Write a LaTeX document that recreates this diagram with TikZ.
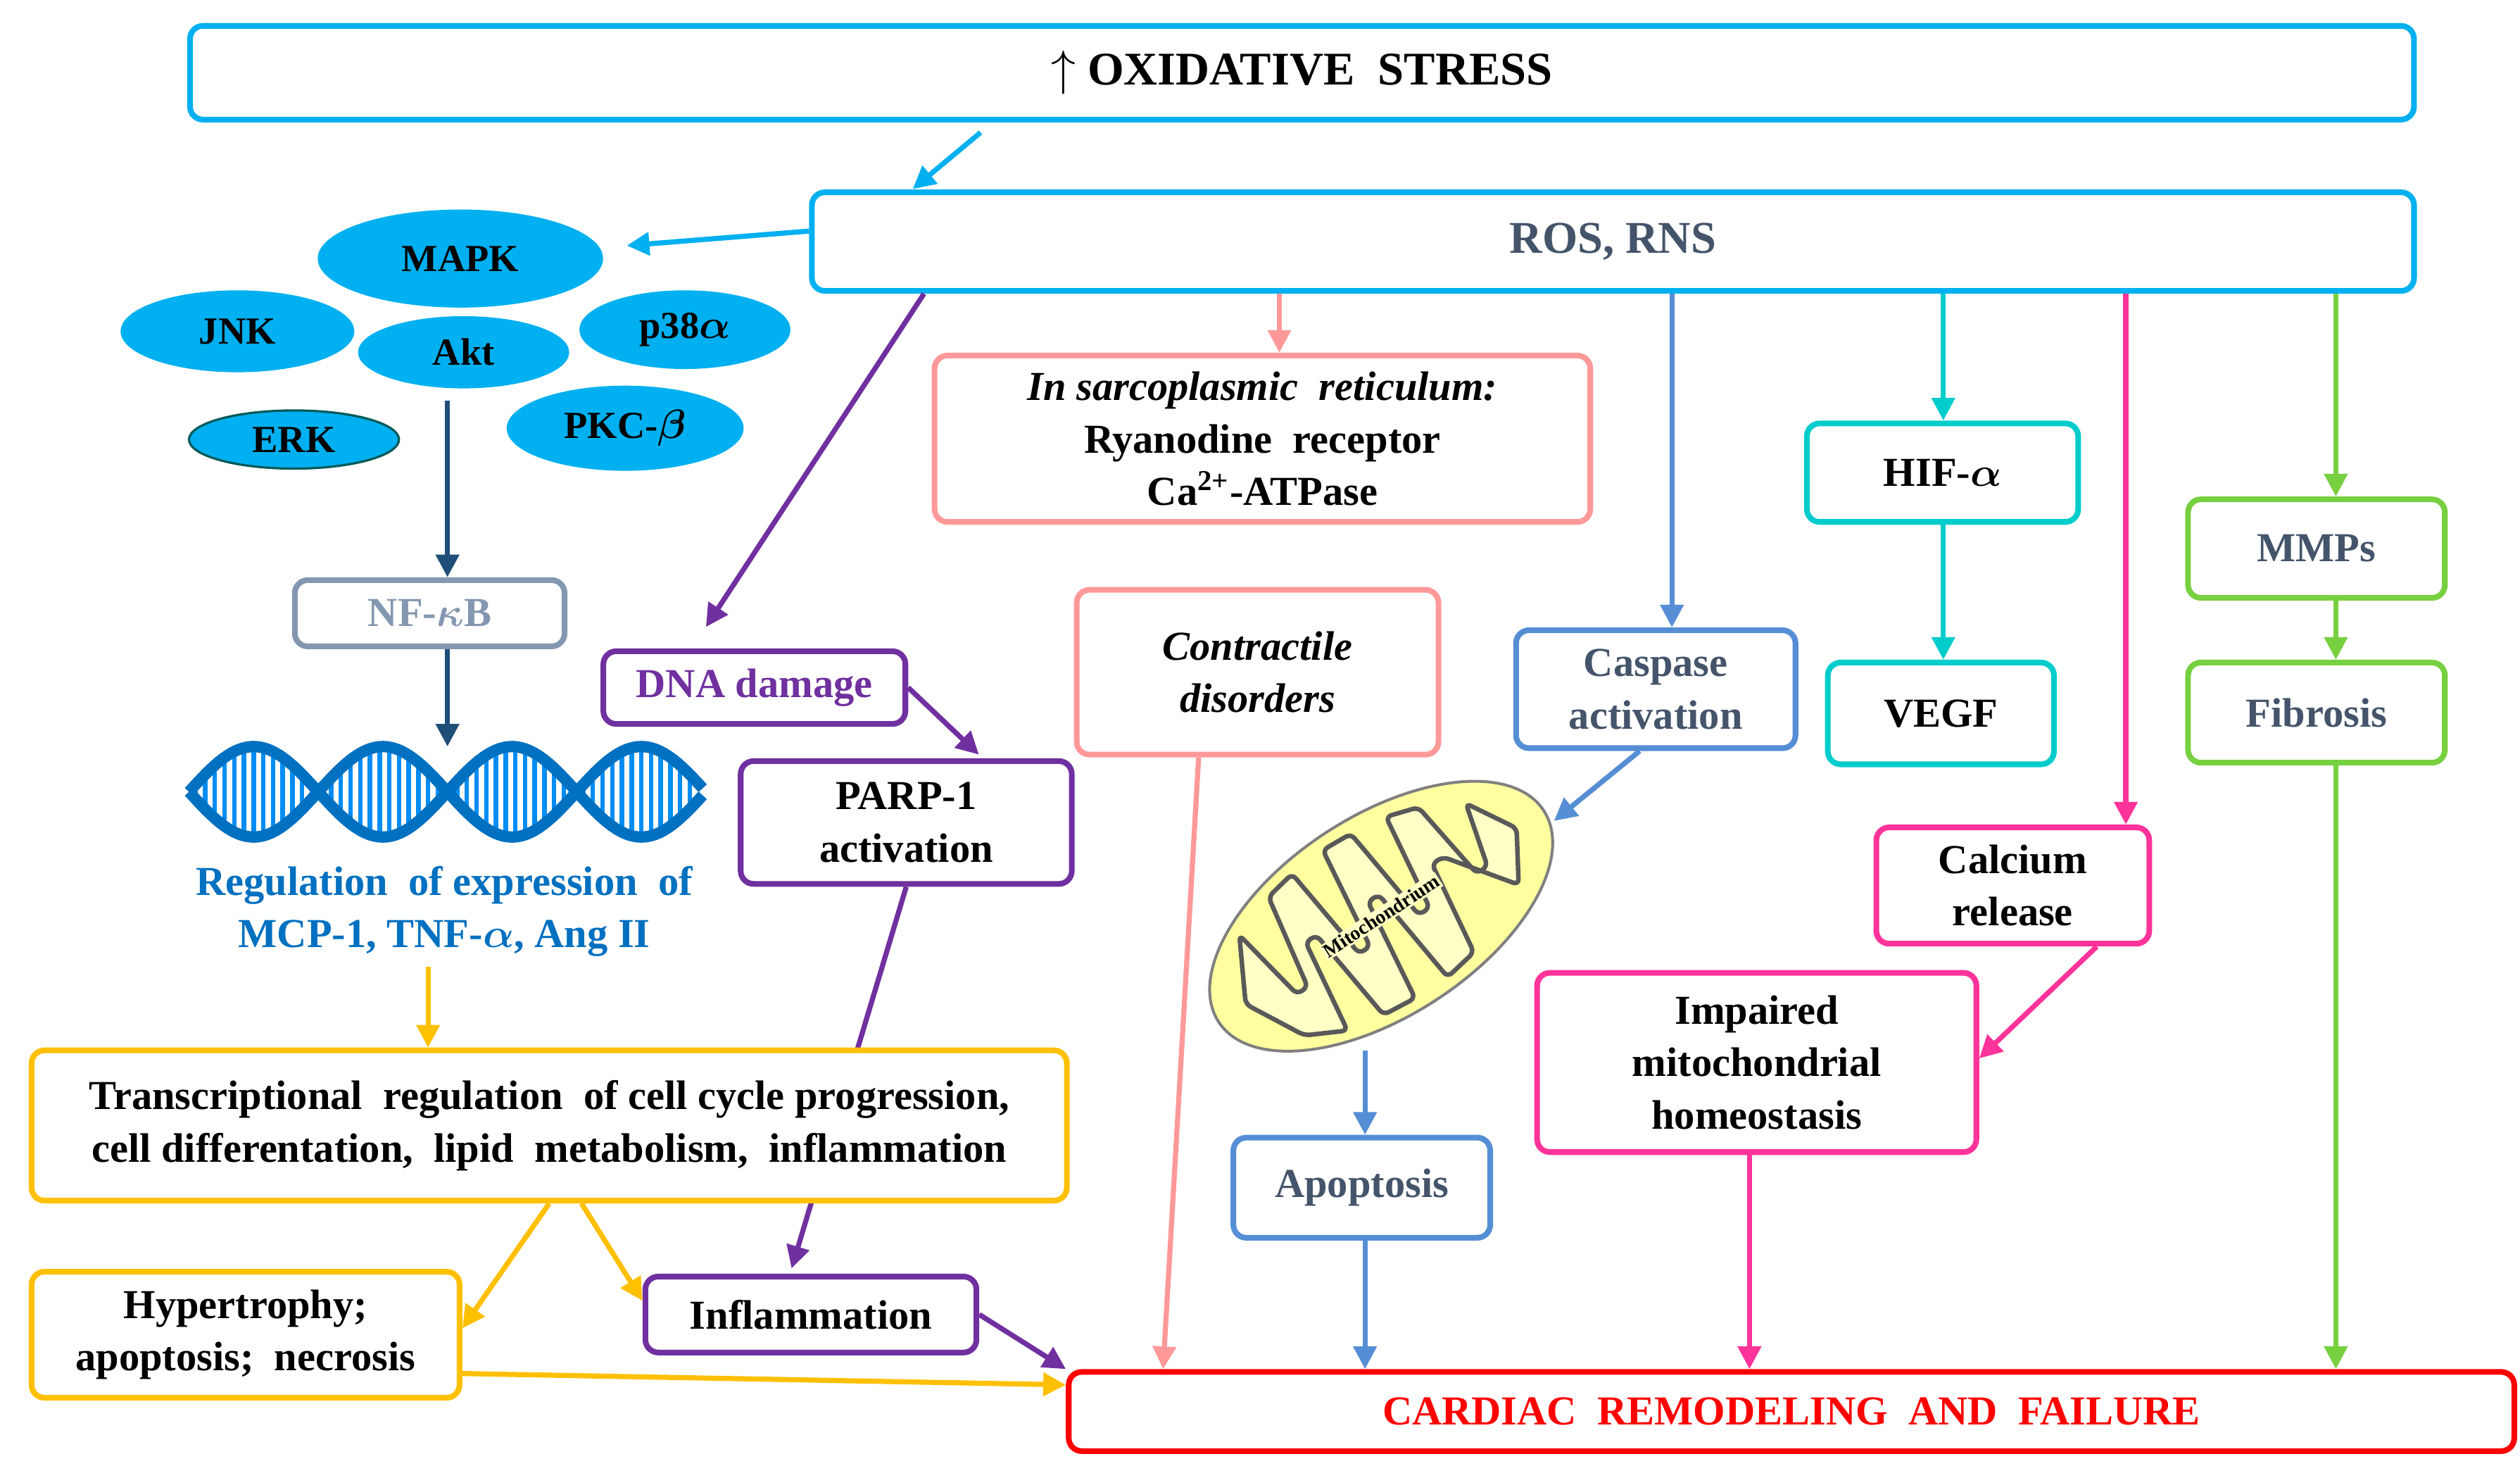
\documentclass[tikz,border=0pt]{standalone}
\usepackage{amsmath}
\usepackage{fontspec}
\setmainfont{Liberation Serif}
\usetikzlibrary{arrows.meta,shapes.geometric,calc,backgrounds}
\definecolor{sky}{RGB}{0,176,240}
\definecolor{navy}{RGB}{31,78,121}
\definecolor{slate}{RGB}{68,84,106}
\definecolor{gbl}{RGB}{132,151,176}
\definecolor{orng}{RGB}{255,192,0}
\definecolor{purp}{RGB}{112,48,160}
\definecolor{pnk}{RGB}{255,153,153}
\definecolor{cblue}{RGB}{85,142,213}
\definecolor{teal2}{RGB}{0,204,204}
\definecolor{mag}{RGB}{255,51,153}
\definecolor{grn}{RGB}{119,208,63}
\definecolor{rblue}{RGB}{0,112,192}
\definecolor{myel}{RGB}{255,255,160}
\tikzset{
 box/.style={draw=#1,line width=2pt,rounded corners=0.16cm,fill=white,align=center,inner sep=2pt,font=\fontsize{14.5}{18.5}\selectfont\bfseries},
 ell/.style={ellipse,fill=sky,draw=sky,inner sep=0pt,font=\fontsize{13.5}{15}\selectfont\bfseries},
 ar/.style={draw=#1,line width=1.8pt,-{Triangle[length=0.28cm,width=0.28cm]}},
}
\begin{document}
\begin{tikzpicture}[x=0.02cm,y=-0.02cm]
\useasboundingbox (0,0) rectangle (1560,907);
% top boxes
\node[box=sky,minimum width=27.54cm,minimum height=1.16cm,font=\fontsize{16.5}{19}\selectfont\bfseries] (ox) at (806,45) {$\uparrow$ OXIDATIVE\ \ STRESS};
\node[box=sky,minimum width=19.84cm,minimum height=1.22cm,font=\fontsize{16}{19}\selectfont\bfseries,text=slate] (ros) at (998.5,149.5) {ROS, RNS};
\coordinate (oxs) at (607,82);
\coordinate (rost) at (565,117);
\draw[ar=sky] (oxs) -- (rost);
% ellipses
\node[ell,minimum width=3.52cm,minimum height=1.2cm] (mapk) at (285,160) {MAPK};
\node[ell,minimum width=2.88cm,minimum height=1.0cm] (jnk) at (147,205) {JNK};
\node[ell,minimum width=2.6cm,minimum height=0.88cm] (akt) at (287,218) {Akt};
\node[ell,minimum width=2.6cm,minimum height=0.96cm] (p38) at (424,204) {p38$\boldsymbol{\alpha}$};
\node[ell,minimum width=2.6cm,minimum height=0.72cm,draw=teal!70!black,line width=0.8pt] (erk) at (182,272) {ERK};
\node[ell,minimum width=2.92cm,minimum height=1.04cm] (pkc) at (387,265) {PKC-$\boldsymbol{\beta}$};
\coordinate (mapkr) at (388,152);
\draw[ar=sky] (ros.west |- 0,143) -- (mapkr);
% NF-kB chain
\node[box=gbl,minimum width=3.34cm,minimum height=0.82cm,text=gbl] (nf) at (266,379.5) {NF-$\boldsymbol{\kappa}$B};
\coordinate (aktb) at (277,248);
\draw[ar=navy] (aktb) -- (nf.north -| 277,0);
\coordinate (dnat) at (277,462);
\draw[ar=navy] (nf.south -| 277,0) -- (dnat);
% DNA helix
\begin{scope}
\foreach \x in {121,127,...,431}{
  \draw[sky!80!blue,line width=1.6pt] (\x,{490+28*sin((\x-117)*2.25)}) -- (\x,{490-28*sin((\x-117)*2.25)});
}
\draw[rblue,line width=4pt,domain=117:435,samples=120] plot (\x,{490+28*sin((\x-117)*2.25)});
\draw[rblue,line width=4pt,domain=117:435,samples=120] plot (\x,{490-28*sin((\x-117)*2.25)});
\end{scope}
\node[text=rblue,align=center,font=\fontsize{14.5}{18.5}\selectfont\bfseries] (reg) at (275,564) {Regulation\ \ of expression\ \ of\\MCP-1, TNF-$\boldsymbol{\alpha}$, Ang II};
\node[box=orng,minimum width=12.82cm,minimum height=1.86cm] (tr) at (340,696.5) {Transcriptional\ \ regulation\ \ of cell cycle progression,\\cell differentation,\ \ lipid\ \ metabolism,\ \ inflammation};
\draw[ar=orng] (reg.south -| 265,0) -- (tr.north -| 265,0);
\node[box=orng,minimum width=5.3cm,minimum height=1.56cm] (hyp) at (152,826) {Hypertrophy;\\apoptosis;\ \ necrosis};
% purple
\node[box=purp,minimum width=3.74cm,minimum height=0.9cm,text=purp] (dna) at (467,425.5) {DNA damage};
\node[box=purp,minimum width=4.1cm,minimum height=1.52cm] (parp) at (561,509) {PARP-1\\activation};
\node[box=purp,minimum width=4.1cm,minimum height=0.94cm] (inf) at (502,813.5) {Inflammation};
\coordinate (dnain) at (437,388);
\draw[ar=purp] (ros.south -| 572,0) -- (dnain);
\coordinate (parpin) at (606,467);
\draw[ar=purp] (dna.east) -- (parpin);
\coordinate (infin) at (490,785);
\begin{scope}[on background layer]
\draw[ar=purp] (parp.south) -- (infin);
\end{scope}
% orange from trans
\draw[ar=orng] (tr.south -| 340,0) -- (hyp.east |- 0,822);
\draw[ar=orng] (tr.south -| 360,0) -- (inf.west |- 0,805);
% pink
\node[box=pnk,minimum width=8.12cm,minimum height=2.06cm] (sar) at (781.5,271.5) {\textit{In sarcoplasmic\ \ reticulum:}\\Ryanodine\ \ receptor\\Ca\textsuperscript{2+}-ATPase};
\draw[ar=pnk] (ros.south -| 792,0) -- (sar.north -| 792,0);
\node[box=pnk,minimum width=4.48cm,minimum height=2.04cm] (con) at (778.5,416) {\textit{Contractile}\\\textit{disorders}};
% blue caspase
\node[box=cblue,minimum width=3.46cm,minimum height=1.46cm,text=slate] (cas) at (1025,426.5) {Caspase\\activation};
\draw[ar=cblue] (ros.south -| 1035,0) -- (cas.north -| 1035,0);
% mitochondrion
\begin{scope}[shift={(855,567)},rotate=33]
\draw[draw=gray,fill=myel,line width=1pt] (0,0) ellipse (120 and 62);
\draw[gray!70!black,line width=1.6pt,fill=myel!60!white,rounded corners=2pt]
 (-100,0) -- (-80,-38) -- (-70,12) -- (-62,12) -- (-52,-48) -- (-32,-52) -- (-24,12) -- (-16,12) -- (-8,-54) -- (12,-53) -- (20,12) -- (28,12) -- (36,-50) -- (56,-44) -- (64,10) -- (72,10) -- (82,-30) -- (100,0)
 -- (82,30) -- (52,-10) -- (44,-10) -- (36,50) -- (14,54) -- (6,-12) -- (-2,-12) -- (-10,54) -- (-32,52) -- (-40,-12) -- (-48,-12) -- (-56,48) -- (-80,36) -- cycle;
\node[rotate=33,font=\fontsize{7}{8}\selectfont\bfseries,fill=myel!60!white,inner sep=0.5pt] (mito) at (0,0) {Mitochondrium};
\end{scope}
\coordinate (mitoin) at (962,508);
\draw[ar=cblue] (cas.south -| 1015,0) -- (mitoin);
\node[box=cblue,minimum width=3.18cm,minimum height=1.24cm,text=slate] (apo) at (843,735) {Apoptosis};
\coordinate (mitob) at (845,650);
\draw[ar=cblue] (mitob) -- (apo.north -| 845,0);
% teal
\node[box=teal2,minimum width=3.36cm,minimum height=1.22cm] (hif) at (1202.5,292.5) {HIF-$\boldsymbol{\alpha}$};
\node[box=teal2,minimum width=2.8cm,minimum height=1.26cm] (vegf) at (1201.5,441.5) {VEGF};
\draw[ar=teal2] (ros.south -| 1203,0) -- (hif.north -| 1203,0);
\draw[ar=teal2] (hif.south -| 1203,0) -- (vegf.north -| 1203,0);
% magenta
\node[box=mag,minimum width=3.38cm,minimum height=1.44cm] (cal) at (1246,548) {Calcium\\release};
\node[box=mag,minimum width=5.44cm,minimum height=2.22cm] (imp) at (1087.5,657.5) {Impaired\\mitochondrial\\homeostasis};
\draw[ar=mag] (ros.south -| 1316,0) -- (cal.north -| 1316,0);
\draw[ar=mag] (cal.south -| 1298,0) -- (imp.east |- 0,655);
% green
\node[box=grn,minimum width=3.18cm,minimum height=1.22cm,text=slate] (mmp) at (1434,339.5) {MMPs};
\node[box=grn,minimum width=3.18cm,minimum height=1.24cm,text=slate] (fib) at (1434,441) {Fibrosis};
\draw[ar=grn] (ros.south -| 1446,0) -- (mmp.north -| 1446,0);
\draw[ar=grn] (mmp.south -| 1446,0) -- (fib.north -| 1446,0);
% cardiac
\node[box=red,minimum width=17.9cm,minimum height=0.98cm,text=red] (car) at (1109,873.5) {CARDIAC\ \ REMODELING\ \ AND\ \ FAILURE};
\draw[ar=orng] (hyp.east |- 0,850) -- (car.west |- 0,857);
\draw[ar=purp] (inf.east) -- (car.north west);
\draw[ar=pnk] (con.south -| 742,0) -- (car.north -| 720,0);
\draw[ar=cblue] (apo.south -| 845,0) -- (car.north -| 845,0);
\draw[ar=mag] (imp.south -| 1083,0) -- (car.north -| 1083,0);
\draw[ar=grn] (fib.south -| 1446,0) -- (car.north -| 1446,0);
\end{tikzpicture}
\end{document}
